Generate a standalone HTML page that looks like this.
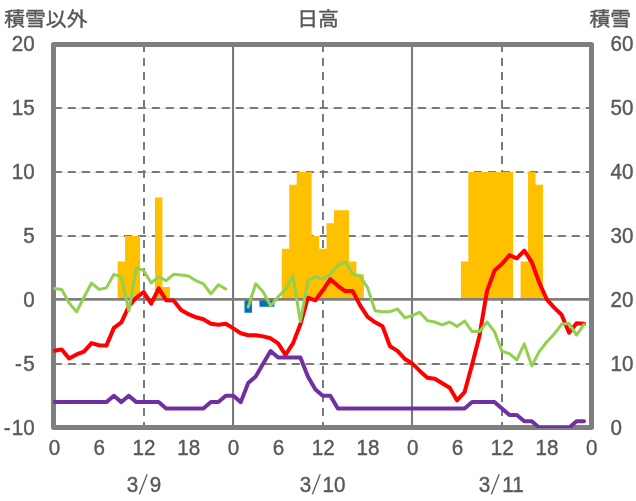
<!DOCTYPE html>
<html lang="ja"><head><meta charset="utf-8"><title>日高</title>
<style>html,body{margin:0;padding:0;background:#fff}svg{display:block}text{font-family:"Liberation Sans","Noto Sans CJK JP",sans-serif;font-size:20px;fill:#595959}</style></head><body>
<svg width="636" height="501" viewBox="0 0 636 501">
<rect width="636" height="501" fill="#fff"/>
<g stroke="#e2e2e2" stroke-width="1" fill="none"><line x1="53.5" y1="108.5" x2="591.5" y2="108.5"/><line x1="53.5" y1="172.5" x2="591.5" y2="172.5"/><line x1="53.5" y1="236.5" x2="591.5" y2="236.5"/><line x1="53.5" y1="364.5" x2="591.5" y2="364.5"/></g>
<g stroke="#7a7a7a" stroke-width="2" stroke-dasharray="8 6" fill="none"><line x1="53.8" y1="108.0" x2="591.5" y2="108.0"/><line x1="53.8" y1="172.0" x2="591.5" y2="172.0"/><line x1="53.8" y1="236.0" x2="591.5" y2="236.0"/><line x1="53.8" y1="364.0" x2="591.5" y2="364.0"/><line x1="144.0" y1="44.0" x2="144.0" y2="427.4"/><line x1="323.0" y1="44.0" x2="323.0" y2="427.4"/><line x1="502.0" y1="44.0" x2="502.0" y2="427.4"/></g>
<g stroke="#7a7a7a" stroke-width="2.1" fill="none">
<line x1="233.05" y1="44.4" x2="233.05" y2="427.4"/>
<line x1="412.00" y1="44.4" x2="412.00" y2="427.4"/>
</g>
<path fill="#ffc000" d="M117.63,299.90 L117.63,261.53 L125.09,261.53 L125.09,235.95 L132.55,235.95 L132.55,235.95 L140.01,235.95 L140.01,299.90 Z M154.94,299.90 L154.94,197.58 L162.40,197.58 L162.40,287.11 L169.86,287.11 L169.86,299.90 Z M281.79,299.90 L281.79,248.74 L289.25,248.74 L289.25,184.79 L296.71,184.79 L296.71,172.00 L304.18,172.00 L304.18,172.00 L311.64,172.00 L311.64,235.95 L319.10,235.95 L319.10,248.74 L326.56,248.74 L326.56,223.16 L334.02,223.16 L334.02,210.37 L341.49,210.37 L341.49,210.37 L348.95,210.37 L348.95,261.53 L356.41,261.53 L356.41,274.32 L363.87,274.32 L363.87,299.90 Z M460.88,299.90 L460.88,261.53 L468.34,261.53 L468.34,172.00 L475.80,172.00 L475.80,172.00 L483.26,172.00 L483.26,172.00 L490.73,172.00 L490.73,172.00 L498.19,172.00 L498.19,172.00 L505.65,172.00 L505.65,172.00 L513.11,172.00 L513.11,299.90 Z M520.58,299.90 L520.58,261.53 L528.04,261.53 L528.04,172.00 L535.50,172.00 L535.50,184.79 L542.96,184.79 L542.96,299.90 Z"/>
<path fill="#0070c0" d="M244.48,299.90 L244.48,312.69 L251.94,312.69 L251.94,299.90 Z M259.40,299.90 L259.40,306.81 L266.87,306.81 L266.87,306.81 L274.33,306.81 L274.33,299.90 Z"/>
<line x1="53.5" y1="299.4" x2="591.5" y2="299.4" stroke="#7f7f7f" stroke-width="2.7"/>
<rect x="53.5" y="44.4" width="538.0" height="383.1" fill="none" stroke="#7f7f7f" stroke-width="5" stroke-linejoin="round"/>
<clipPath id="pc"><rect x="53.2" y="42" width="541" height="386"/></clipPath><g clip-path="url(#pc)">
<polyline points="54.2,350.8 61.7,349.5 69.1,358.4 76.6,354.4 84.0,351.6 91.5,343.1 99.0,345.2 106.4,345.6 113.9,327.9 121.4,322.3 128.8,306.3 136.3,297.5 143.7,292.1 151.2,303.7 158.7,288.4 166.1,300.2 173.6,300.4 181.1,309.9 188.5,314.2 196.0,317.3 203.4,319.3 210.9,323.8 218.4,324.7 225.8,323.8 233.3,328.4 240.8,333.2 248.2,335.2 255.7,335.2 263.1,336.4 270.6,338.3 278.1,343.4 285.5,354.8 293.0,343.4 300.4,324.2 307.9,297.7 315.4,300.3 322.8,290.3 330.3,279.2 337.8,285.8 345.2,291.1 352.7,291.1 360.1,305.4 367.6,316.9 375.1,322.3 382.5,326.2 390.0,346.2 397.5,350.9 404.9,359.0 412.4,363.6 419.8,370.9 427.3,377.7 434.8,378.7 442.2,383.3 449.7,387.8 457.1,400.4 464.6,392.0 472.1,364.6 479.5,335.7 487.0,290.9 494.5,270.6 501.9,264.0 509.4,255.1 516.8,258.3 524.3,250.7 531.8,262.2 539.2,282.5 546.7,299.4 554.2,307.6 561.6,314.7 569.1,332.8 576.5,323.2 584.0,323.8" fill="none" stroke="#ff0000" stroke-width="4" stroke-linejoin="round" stroke-linecap="round"/>
<polyline points="54.2,288.6 61.7,289.4 69.1,303.0 76.6,311.8 84.0,297.3 91.5,283.0 99.0,289.4 106.4,287.9 113.9,274.3 121.4,276.9 128.8,311.0 136.3,267.9 143.7,270.7 151.2,283.0 158.7,276.6 166.1,280.7 173.6,274.3 181.1,275.1 188.5,275.9 196.0,280.7 203.4,283.8 210.9,293.8 218.4,284.7 225.8,289.0" fill="none" stroke="#92d050" stroke-width="3" stroke-linejoin="round" stroke-linecap="round"/>
<polyline points="248.2,307.1 255.7,283.8 263.1,291.8 270.6,305.9 278.1,296.7 285.5,289.4 293.0,275.9 300.4,321.5 307.9,280.7 315.4,276.6 322.8,279.1 330.3,274.3 337.8,265.4 345.2,261.8 352.7,273.9 360.1,275.9 367.6,287.9 375.1,310.8 382.5,311.7 390.0,311.7 397.5,309.0 404.9,317.8 412.4,315.6 419.8,312.2 427.3,320.6 434.8,322.0 442.2,324.8 449.7,322.0 457.1,326.4 464.6,321.0 472.1,331.6 479.5,331.6 487.0,322.0 494.5,331.6 501.9,351.3 509.4,353.6 516.8,359.8 524.3,343.9 531.8,365.9 539.2,351.6 546.7,342.0 554.2,334.0 561.6,324.3 569.1,323.6 576.5,335.1 584.0,324.3" fill="none" stroke="#92d050" stroke-width="3" stroke-linejoin="round" stroke-linecap="round"/>
<polyline points="54.2,402.1 61.7,402.1 69.1,402.1 76.6,402.1 84.0,402.1 91.5,402.1 99.0,402.1 106.4,402.1 113.9,395.8 121.4,402.1 128.8,395.8 136.3,402.1 143.7,402.1 151.2,402.1 158.7,402.1 166.1,408.5 173.6,408.5 181.1,408.5 188.5,408.5 196.0,408.5 203.4,408.5 210.9,402.1 218.4,402.1 225.8,395.8 233.3,395.8 240.8,402.1 248.2,383.0 255.7,376.6 263.1,363.8 270.6,351.0 278.1,357.4 285.5,357.4 293.0,357.4 300.4,357.4 307.9,376.6 315.4,389.4 322.8,395.8 330.3,395.8 337.8,408.5 345.2,408.5 352.7,408.5 360.1,408.5 367.6,408.5 375.1,408.5 382.5,408.5 390.0,408.5 397.5,408.5 404.9,408.5 412.4,408.5 419.8,408.5 427.3,408.5 434.8,408.5 442.2,408.5 449.7,408.5 457.1,408.5 464.6,408.5 472.1,402.1 479.5,402.1 487.0,402.1 494.5,402.1 501.9,408.5 509.4,414.9 516.8,414.9 524.3,421.3 531.8,421.3 539.2,427.7 546.7,427.7 554.2,427.7 561.6,427.7 569.1,427.7 576.5,421.3 584.0,421.3" fill="none" stroke="#7030a0" stroke-width="4" stroke-linejoin="round" stroke-linecap="round"/>
</g>
<text transform="translate(34.70,50.92) scale(1.000,1.060)" text-anchor="end" style="font-size:20.60px" stroke="#595959" stroke-width="0.40">20</text>
<text transform="translate(34.70,114.92) scale(1.000,1.060)" text-anchor="end" style="font-size:20.60px" stroke="#595959" stroke-width="0.40">15</text>
<text transform="translate(34.70,178.92) scale(1.000,1.060)" text-anchor="end" style="font-size:20.60px" stroke="#595959" stroke-width="0.40">10</text>
<text transform="translate(34.70,242.92) scale(1.000,1.060)" text-anchor="end" style="font-size:20.60px" stroke="#595959" stroke-width="0.40">5</text>
<text transform="translate(34.70,306.92) scale(1.000,1.060)" text-anchor="end" style="font-size:20.60px" stroke="#595959" stroke-width="0.40">0</text>
<text transform="translate(34.70,370.92) scale(1.000,1.060)" text-anchor="end" style="font-size:20.60px" stroke="#595959" stroke-width="0.40">-<tspan dx="1.3">5</tspan></text>
<text transform="translate(34.70,434.92) scale(1.000,1.060)" text-anchor="end" style="font-size:20.60px" stroke="#595959" stroke-width="0.40">-<tspan dx="1.3">10</tspan></text>
<text transform="translate(610.60,434.92) scale(1.000,1.060)" text-anchor="start" style="font-size:20.60px" stroke="#595959" stroke-width="0.40">0</text>
<text transform="translate(610.60,370.92) scale(1.000,1.060)" text-anchor="start" style="font-size:20.60px" stroke="#595959" stroke-width="0.40">10</text>
<text transform="translate(610.60,306.92) scale(1.000,1.060)" text-anchor="start" style="font-size:20.60px" stroke="#595959" stroke-width="0.40">20</text>
<text transform="translate(610.60,242.92) scale(1.000,1.060)" text-anchor="start" style="font-size:20.60px" stroke="#595959" stroke-width="0.40">30</text>
<text transform="translate(610.60,178.92) scale(1.000,1.060)" text-anchor="start" style="font-size:20.60px" stroke="#595959" stroke-width="0.40">40</text>
<text transform="translate(610.60,114.92) scale(1.000,1.060)" text-anchor="start" style="font-size:20.60px" stroke="#595959" stroke-width="0.40">50</text>
<text transform="translate(610.60,50.92) scale(1.000,1.060)" text-anchor="start" style="font-size:20.60px" stroke="#595959" stroke-width="0.40">60</text>
<text transform="translate(54.50,455.32) scale(1.000,1.060)" text-anchor="middle" style="font-size:20.60px" stroke="#595959" stroke-width="0.40">0</text>
<text transform="translate(99.27,455.32) scale(1.000,1.060)" text-anchor="middle" style="font-size:20.60px" stroke="#595959" stroke-width="0.40">6</text>
<text transform="translate(144.04,455.32) scale(1.000,1.060)" text-anchor="middle" style="font-size:20.60px" stroke="#595959" stroke-width="0.40">12</text>
<text transform="translate(188.82,455.32) scale(1.000,1.060)" text-anchor="middle" style="font-size:20.60px" stroke="#595959" stroke-width="0.40">18</text>
<text transform="translate(233.59,455.32) scale(1.000,1.060)" text-anchor="middle" style="font-size:20.60px" stroke="#595959" stroke-width="0.40">0</text>
<text transform="translate(278.36,455.32) scale(1.000,1.060)" text-anchor="middle" style="font-size:20.60px" stroke="#595959" stroke-width="0.40">6</text>
<text transform="translate(323.13,455.32) scale(1.000,1.060)" text-anchor="middle" style="font-size:20.60px" stroke="#595959" stroke-width="0.40">12</text>
<text transform="translate(367.90,455.32) scale(1.000,1.060)" text-anchor="middle" style="font-size:20.60px" stroke="#595959" stroke-width="0.40">18</text>
<text transform="translate(412.68,455.32) scale(1.000,1.060)" text-anchor="middle" style="font-size:20.60px" stroke="#595959" stroke-width="0.40">0</text>
<text transform="translate(457.45,455.32) scale(1.000,1.060)" text-anchor="middle" style="font-size:20.60px" stroke="#595959" stroke-width="0.40">6</text>
<text transform="translate(502.22,455.32) scale(1.000,1.060)" text-anchor="middle" style="font-size:20.60px" stroke="#595959" stroke-width="0.40">12</text>
<text transform="translate(546.99,455.32) scale(1.000,1.060)" text-anchor="middle" style="font-size:20.60px" stroke="#595959" stroke-width="0.40">18</text>
<text transform="translate(591.76,455.32) scale(1.000,1.060)" text-anchor="middle" style="font-size:20.60px" stroke="#595959" stroke-width="0.40">0</text>
<text transform="translate(132.60,491.92) scale(1.000,1.060)" text-anchor="middle" style="font-size:20.60px" stroke="#595959" stroke-width="0.40">3</text>
<text transform="translate(141.20,493.99) skewX(-12.0) scale(0.850,1.330)" text-anchor="middle" style="font-size:20.60px">/</text>
<text transform="translate(155.40,491.92) scale(1.000,1.060)" text-anchor="middle" style="font-size:20.60px" stroke="#595959" stroke-width="0.40">9</text>
<text transform="translate(305.50,491.92) scale(1.000,1.060)" text-anchor="middle" style="font-size:20.60px" stroke="#595959" stroke-width="0.40">3</text>
<text transform="translate(314.10,493.99) skewX(-12.0) scale(0.850,1.330)" text-anchor="middle" style="font-size:20.60px">/</text>
<text transform="translate(334.00,491.92) scale(1.000,1.060)" text-anchor="middle" style="font-size:20.60px" stroke="#595959" stroke-width="0.40">10</text>
<text transform="translate(484.50,491.92) scale(1.000,1.060)" text-anchor="middle" style="font-size:20.60px" stroke="#595959" stroke-width="0.40">3</text>
<text transform="translate(493.10,493.99) skewX(-12.0) scale(0.850,1.330)" text-anchor="middle" style="font-size:20.60px">/</text>
<text transform="translate(513.00,491.92) scale(1.000,1.060)" text-anchor="middle" style="font-size:20.60px" stroke="#595959" stroke-width="0.40">11</text>
<text transform="translate(4.30,25.70) scale(0.99,0.94)" text-anchor="start" style="font-size:21px" stroke="#595959" stroke-width="0.45">積雪以外</text>
<text transform="translate(318.00,25.70) scale(0.99,0.94)" text-anchor="middle" style="font-size:21px" stroke="#595959" stroke-width="0.45">日高</text>
<text transform="translate(631.00,25.70) scale(0.99,0.94)" text-anchor="end" style="font-size:21px" stroke="#595959" stroke-width="0.45">積雪</text>
</svg></body></html>
